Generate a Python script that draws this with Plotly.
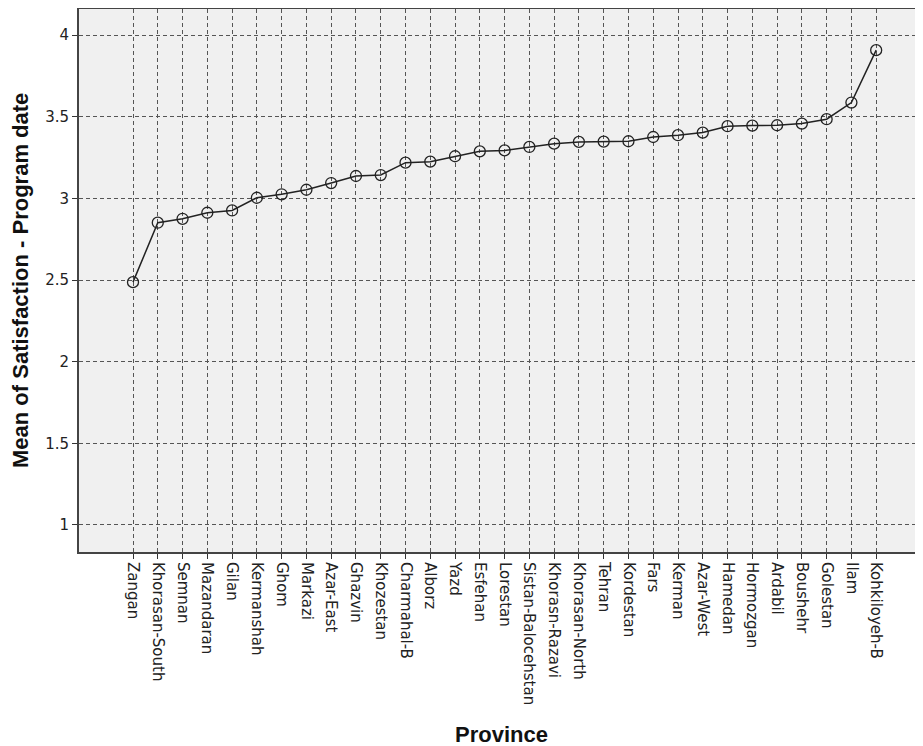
import plotly.graph_objects as go

provinces = ["Zangan", "Khorasan-South", "Semnan", "Mazandaran", "Gilan", "Kermanshah",
             "Ghom", "Markazi", "Azar-East", "Ghazvin", "Khozestan", "Charmahal-B",
             "Alborz", "Yazd", "Esfehan", "Lorestan", "Sistan-Balocehstan", "Khorasn-Razavi",
             "Khorasan-North", "Tehran", "Kordestan", "Fars", "Kerman", "Azar-West",
             "Hamedan", "Hormozgan", "Ardabil", "Boushehr", "Golestan", "Ilam", "Kohkiloyeh-B"]
mean_satisfaction = [2.487, 2.851, 2.875, 2.912, 2.926, 3.004, 3.025, 3.053, 3.094, 3.137,
                     3.143, 3.219, 3.225, 3.258, 3.288, 3.294, 3.315, 3.335, 3.346, 3.348,
                     3.350, 3.376, 3.387, 3.403, 3.442, 3.446, 3.448, 3.458, 3.485, 3.587, 3.908]
y_ticks = [1, 1.5, 2, 2.5, 3, 3.5, 4]
y_tick_labels = ["1", "1.5", "2", "2.5", "3", "3.5", "4"]

title_font = "Liberation Sans, Arial, sans-serif"
tick_font = "DejaVu Sans, Verdana, sans-serif"

fig = go.Figure()
fig.add_trace(go.Scatter(
    x=provinces, y=mean_satisfaction, mode="lines+markers",
    line=dict(color="#222222", width=1.5),
    marker=dict(symbol="circle-open", size=11, color="#222222", line=dict(width=1.3)),
    showlegend=False,
))

fig.update_layout(
    width=915, height=738,
    margin=dict(l=71, r=0, t=1, b=194),
    paper_bgcolor="white", plot_bgcolor="#f0f0f0",
    font=dict(family=tick_font, size=15, color="#222222"),
    xaxis=dict(
        type="category", range=[-2.18, 31.89],
        tickangle=90, ticks="outside", ticklen=5, tickcolor="#333333",
        showline=True, linecolor="#444444", linewidth=2, mirror=True,
        showgrid=True, gridcolor="#555555", gridwidth=1, griddash="4px,3px",
        tickfont=dict(size=15, color="#222222", family=tick_font), zeroline=False,
    ),
    yaxis=dict(
        range=[0.834, 4.160], tickvals=y_ticks, ticktext=y_tick_labels,
        ticks="outside", ticklen=5, tickcolor="#333333",
        showline=True, linecolor="#444444", linewidth=2,
        showgrid=True, gridcolor="#555555", gridwidth=1, griddash="4px,3px",
        tickfont=dict(size=15, color="#222222", family=tick_font), zeroline=False,
    ),
    annotations=[
        dict(text="<b>Province</b>", xref="paper", yref="paper", x=0.5, y=(543 - 725) / 543,
             xanchor="center", yanchor="middle", showarrow=False,
             font=dict(size=22, color="#111111", family=title_font)),
        dict(text="<b>Mean of Satisfaction - Program date</b>", xref="paper", yref="paper",
             x=(12 - 71) / 844, y=(544 - 273) / 543, textangle=-90, xanchor="center",
             yanchor="middle", showarrow=False,
             font=dict(size=22, color="#111111", family=title_font)),
    ],
)

fig.write_html("out.html")
